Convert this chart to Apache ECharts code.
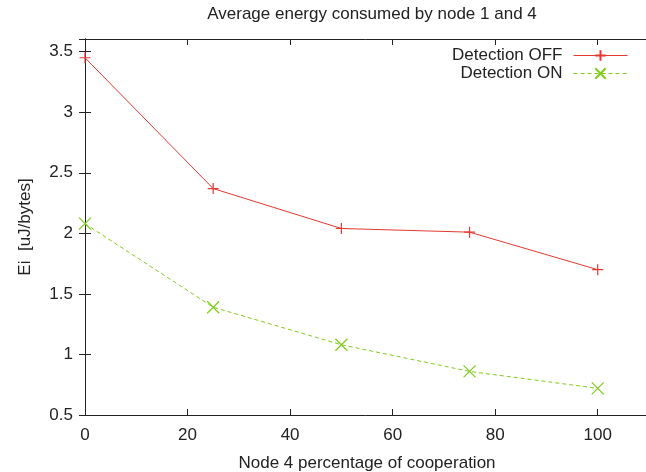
<!DOCTYPE html>
<html>
<head>
<meta charset="utf-8">
<script src="https://cdn.jsdelivr.net/npm/echarts@6/dist/echarts.min.js"></script>
<style>
  html, body { margin: 0; padding: 0; background: #fff; }
  #main { width: 646px; height: 472px; }
</style>
</head>
<body>
<div id="main"></div>
<script>
// cooperation percentage of node 4
var coopX = [0, 25, 50, 75, 100];
// energy Ei [uJ/bytes]
var detectionOff = [3.45, 2.37, 2.04, 2.01, 1.70];
var detectionOn = [2.08, 1.39, 1.08, 0.86, 0.72];

var FONT = '"Liberation Sans", Arial, sans-serif';
var FS = 17;
var RED = '#e43a30';
var GREEN = '#7fcc1a';

function pairs(xs, ys) {
  var out = [];
  for (var i = 0; i < xs.length; i++) {
    out.push([xs[i], ys[i]]);
  }
  return out;
}

var myChart = echarts.init(document.getElementById('main'));

var axisCommon = {
  axisLine: { show: true, lineStyle: { color: '#222', width: 1 } },
  axisTick: { show: true, inside: true, length: 6, lineStyle: { color: '#222' } },
  splitLine: { show: false }
};

var legendCommon = {
  right: 18,
  padding: 0,
  align: 'right',
  itemWidth: 54,
  itemHeight: 13,
  lineStyle: { width: 1 },
  textStyle: { fontFamily: FONT, fontSize: FS, color: '#222', padding: [0, 6, 0, 0] }
};

var option = {
  animation: false,
  backgroundColor: '#fff',
  title: {
    text: 'Average energy consumed by node 1 and 4',
    left: 367,
    textAlign: 'center',
    top: 1,
    textStyle: { fontFamily: FONT, fontSize: FS, fontWeight: 'normal', color: '#222' }
  },
  legend: [
    Object.assign({ data: ['Detection OFF'], top: 47 }, legendCommon),
    Object.assign({ data: ['Detection ON'], top: 65 }, legendCommon)
  ],
  grid: {
    left: 85,
    top: 39,
    bottom: 57,
    right: -3,
    containLabel: false,
    outerBoundsMode: 'none'
  },
  xAxis: [Object.assign({
    type: 'value',
    position: 'bottom',
    min: 0,
    max: 110,
    interval: 20,
    name: 'Node 4 percentage of cooperation',
    nameLocation: 'middle',
    nameGap: 40,
    nameTextStyle: { fontFamily: FONT, fontSize: FS, color: '#222' },
    axisLabel: { fontFamily: FONT, fontSize: FS, color: '#222', margin: 12, showMaxLabel: false }
  }, axisCommon), Object.assign({
    type: 'value',
    position: 'top',
    min: 0,
    max: 110,
    interval: 20,
    axisLabel: { show: false }
  }, axisCommon)],
  yAxis: [Object.assign({
    type: 'value',
    position: 'left',
    min: 0.5,
    max: 3.605,
    interval: 0.5,
    name: 'Ei  [uJ/bytes]',
    nameLocation: 'middle',
    nameGap: 51,
    nameTextStyle: { fontFamily: FONT, fontSize: FS, color: '#222' },
    axisLabel: { fontFamily: FONT, fontSize: FS, color: '#222', margin: 12, showMaxLabel: false }
  }, axisCommon), Object.assign({
    type: 'value',
    position: 'right',
    min: 0.5,
    max: 3.605,
    interval: 0.5,
    axisLabel: { show: false }
  }, axisCommon)],
  series: [{
    name: 'Detection OFF',
    type: 'line',
    xAxisIndex: 0,
    yAxisIndex: 0,
    data: pairs(coopX, detectionOff),
    symbol: 'path://M5,0L5,10M0,5L10,5',
    symbolSize: 11,
    showAllSymbol: true,
    lineStyle: { color: RED, width: 1 },
    itemStyle: { color: RED, borderColor: RED, borderWidth: 1.2 },
    emphasis: { disabled: true }
  }, {
    name: 'Detection ON',
    type: 'line',
    xAxisIndex: 0,
    yAxisIndex: 0,
    data: pairs(coopX, detectionOn),
    symbol: 'path://M0,0L10,10M10,0L0,10',
    symbolSize: 12,
    showAllSymbol: true,
    lineStyle: { color: GREEN, width: 1, type: [4, 3] },
    itemStyle: { color: GREEN, borderColor: GREEN, borderWidth: 1.2 },
    emphasis: { disabled: true }
  }]
};

myChart.setOption(option);
window.onresize = myChart.resize;
</script>
</body>
</html>
